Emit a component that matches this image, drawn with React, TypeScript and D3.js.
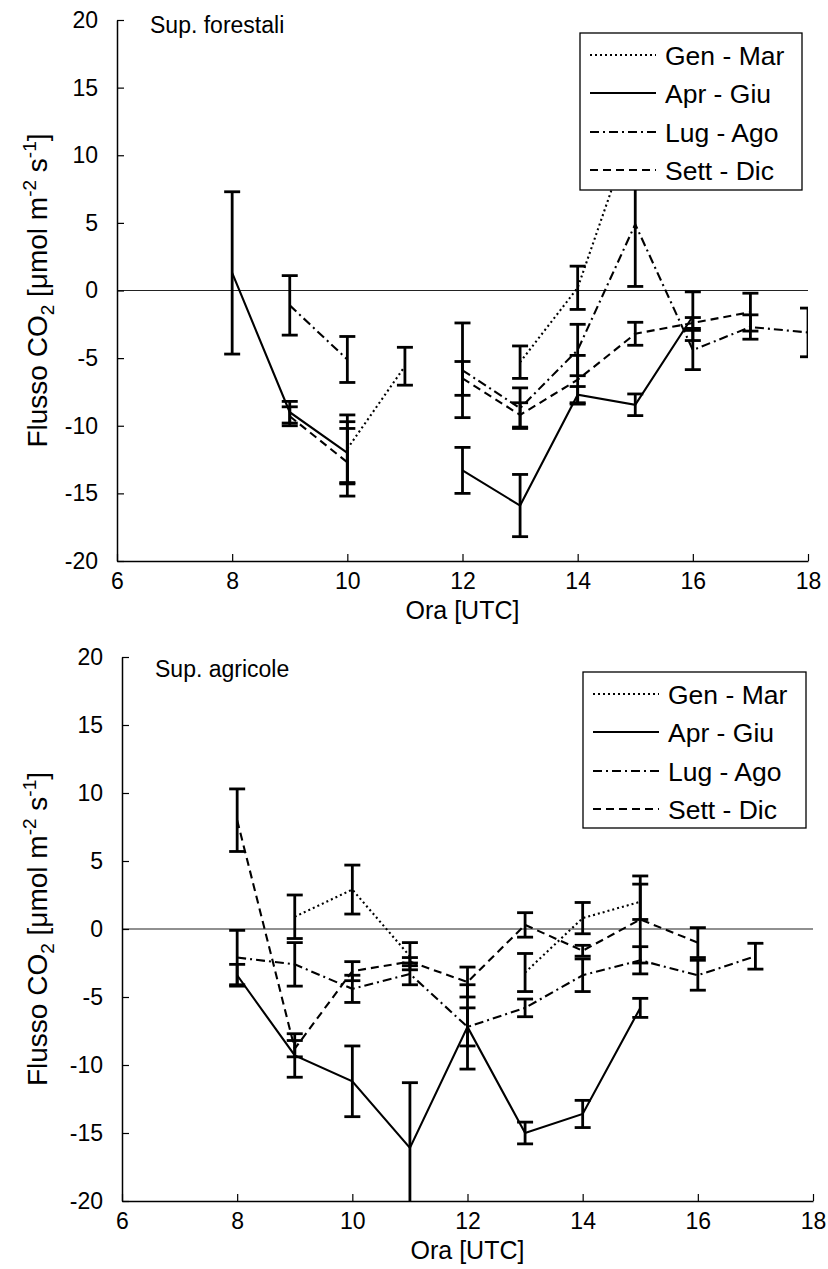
import * as d3 from 'd3';
import React, { useEffect, useRef } from 'react';

const hours = [8, 9, 10, 11, 12, 13, 14, 15, 16, 17, 18];
const xTicks = [6, 8, 10, 12, 14, 16, 18];
const yTicks = [-20, -15, -10, -5, 0, 5, 10, 15, 20];
const seasons = ['Gen - Mar', 'Apr - Giu', 'Lug - Ago', 'Sett - Dic'];

// Sup. forestali (mean, error)
const forGenMar = [null, null, -11.7, -5.6, null, -5.3, 0.2, 12.5, null, null, null];
const forGenMarErr = [null, null, 2.5, 1.4, null, 1.2, 1.6, 1.5, null, null, null];
const forAprGiu = [1.3, -9.0, -12.0, null, -13.3, -15.9, -7.7, -8.45, -1.9, null, null];
const forAprGiuErr = [6.0, 0.8, 2.3, null, 1.7, 2.3, 0.6, 0.8, 1.8, null, null];
const forLugAgo = [null, -1.1, -5.1, null, -5.9, -8.7, -4.4, 4.9, -4.4, -2.7, -3.1];
const forLugAgoErr = [null, 2.2, 1.7, null, 3.5, 1.5, 1.9, 4.6, 1.45, 0.9, 1.8];
const forSettDic = [null, -9.3, -12.7, null, -6.5, -9.2, -6.6, -3.2, -2.4, -1.6, null];
const forSettDicErr = [null, 0.7, 2.5, null, 1.25, 0.9, 1.8, 0.85, 0.4, 1.4, null];

// Sup. agricole (mean, error)
const agrGenMar = [null, 0.9, 2.9, -2.0, null, -3.2, 0.8, 2.0, null, null, null];
const agrGenMarErr = [null, 1.6, 1.8, 1.0, null, 1.4, 1.15, 1.3, null, null, null];
const agrAprGiu = [-3.4, -9.3, -11.2, -16.1, -7.2, -15.0, -13.6, -5.8, null, null, null];
const agrAprGiuErr = [0.8, 1.6, 2.6, 4.8, 3.1, 0.8, 1.0, 0.7, null, null, null];
const agrLugAgo = [-2.1, -2.6, -4.4, -3.3, -7.2, -5.8, -3.4, -2.3, -3.4, -2.0, null];
const agrLugAgoErr = [2.0, 1.6, 1.0, 0.8, 1.4, 0.65, 1.2, 1.0, 1.1, 0.95, null];
const agrSettDic = [8.0, -8.8, -3.1, -2.4, -3.9, 0.3, -1.6, 0.7, -1.0, null, null];
const agrSettDicErr = [2.3, 0.6, 0.7, 0.3, 1.1, 0.9, 0.4, 3.2, 1.1, null, null];

const dashes = ['2,3', null, '9,4,2,4', '8,5'];
const FONT = 'Liberation Sans, Arial, sans-serif';

type Val = number | null;

const panels = [
  {
    title: 'Sup. forestali', left: 117, right: 808, top: 20, bottom: 561,
    titleX: 150, titleY: 33, legend: { x: 580, y: 33, w: 222, h: 157 },
    series: [forGenMar, forAprGiu, forLugAgo, forSettDic],
    errors: [forGenMarErr, forAprGiuErr, forLugAgoErr, forSettDicErr],
  },
  {
    title: 'Sup. agricole', left: 122, right: 813, top: 657, bottom: 1201,
    titleX: 155, titleY: 677, legend: { x: 583, y: 672, w: 223, h: 156 },
    series: [agrGenMar, agrAprGiu, agrLugAgo, agrSettDic],
    errors: [agrGenMarErr, agrAprGiuErr, agrLugAgoErr, agrSettDicErr],
  },
];

const App: React.FC = () => {
  const ref = useRef<SVGSVGElement | null>(null);

  useEffect(() => {
    const svg = d3.select(ref.current);
    svg.selectAll('*').remove();
    svg.append('rect').attr('width', 828).attr('height', 1269).attr('fill', '#fff');

    panels.forEach((p, pi) => {
      const x = d3.scaleLinear().domain([6, 18]).range([p.left, p.right]);
      const y = d3.scaleLinear().domain([-20, 20]).range([p.bottom, p.top]);
      const g = svg.append('g').style('font-family', FONT);

      const clipId = `plotclip${pi}`;
      g.append('clipPath').attr('id', clipId).append('rect')
        .attr('x', p.left).attr('y', p.top)
        .attr('width', p.right - p.left).attr('height', p.bottom - p.top);
      const plot = g.append('g').attr('clip-path', `url(#${clipId})`);

      // zero line
      plot.append('line')
        .attr('x1', x(6)).attr('x2', x(18)).attr('y1', y(0)).attr('y2', y(0))
        .attr('stroke', '#222').attr('stroke-width', 1.2);

      p.series.forEach((vals, si) => {
        const pts = hours.map((h, i) => ({ h, v: vals[i] as Val, e: p.errors[si][i] as Val }));
        const line = d3.line<{ h: number; v: Val }>()
          .defined(d => d.v != null)
          .x(d => x(d.h))
          .y(d => y(d.v as number));
        plot.append('path')
          .attr('d', line(pts))
          .attr('fill', 'none')
          .attr('stroke', '#000')
          .attr('stroke-width', 2.1)
          .attr('stroke-dasharray', dashes[si]);

        const bars = pts.filter(d => d.v != null && d.e != null);
        const eb = plot.append('g').attr('stroke', '#000').attr('stroke-width', 2.8);
        bars.forEach(d => {
          const lo = y((d.v as number) - (d.e as number));
          const hi = y((d.v as number) + (d.e as number));
          const cx = x(d.h);
          eb.append('line').attr('x1', cx).attr('x2', cx).attr('y1', lo).attr('y2', hi);
          eb.append('line').attr('x1', cx - 8).attr('x2', cx + 8).attr('y1', lo).attr('y2', lo);
          eb.append('line').attr('x1', cx - 8).attr('x2', cx + 8).attr('y1', hi).attr('y2', hi);
        });
      });

      // axes (hyphen minus like the original)
      const fmt = (d: d3.NumberValue) => String(d);
      const xAxis = g.append('g')
        .attr('transform', `translate(0,${p.bottom})`)
        .call(d3.axisBottom(x).tickValues(xTicks).tickFormat(fmt)
          .tickSize(-7).tickSizeOuter(0).tickPadding(12));
      const yAxis = g.append('g')
        .attr('transform', `translate(${p.left},0)`)
        .call(d3.axisLeft(y).tickValues(yTicks).tickFormat(fmt)
          .tickSize(-7).tickSizeOuter(0).tickPadding(19));
      [xAxis, yAxis].forEach(a => {
        a.select('.domain').attr('stroke', '#000').attr('stroke-width', 1.5);
        a.selectAll('.tick line').attr('stroke', '#000').attr('stroke-width', 1.2);
        a.selectAll('.tick text').attr('fill', '#000').style('font-size', '23px').style('font-family', FONT);
      });

      // panel title
      g.append('text').attr('x', p.titleX).attr('y', p.titleY)
        .style('font-size', '23px').text(p.title);

      // x label
      g.append('text')
        .attr('x', (p.left + p.right) / 2).attr('y', p.bottom + 58)
        .attr('text-anchor', 'middle').style('font-size', '25px').text('Ora [UTC]');

      // y label
      const yl = g.append('text')
        .attr('transform', `translate(47,${(p.top + p.bottom) / 2}) rotate(-90)`)
        .attr('text-anchor', 'middle').style('font-size', '28px');
      yl.append('tspan').text('Flusso CO');
      yl.append('tspan').attr('dy', 7).style('font-size', '19px').text('2');
      yl.append('tspan').attr('dy', -7).text(' [μmol m');
      yl.append('tspan').attr('dy', -11).style('font-size', '19px').text('-2');
      yl.append('tspan').attr('dy', 11).text(' s');
      yl.append('tspan').attr('dy', -11).style('font-size', '19px').text('-1');
      yl.append('tspan').attr('dy', 11).text(']');

      // legend
      const L = p.legend;
      const lg = g.append('g');
      lg.append('rect').attr('x', L.x).attr('y', L.y).attr('width', L.w).attr('height', L.h)
        .attr('fill', '#fff').attr('stroke', '#000').attr('stroke-width', 1.3);
      const rowY = [22, 60, 99, 137];
      seasons.forEach((s, si) => {
        const ry = L.y + rowY[si];
        lg.append('line')
          .attr('x1', L.x + 10).attr('x2', L.x + 76).attr('y1', ry).attr('y2', ry)
          .attr('stroke', '#000').attr('stroke-width', 2.1)
          .attr('stroke-dasharray', dashes[si]);
        lg.append('text').attr('x', L.x + 85).attr('y', ry).attr('dy', '0.36em')
          .style('font-size', '26.5px').text(s);
      });
    });
  }, []);

  return (
    <svg ref={ref} width={828} height={1269}
      style={{ position: 'absolute', left: 0, top: 0 }} />
  );
};

export default App;
